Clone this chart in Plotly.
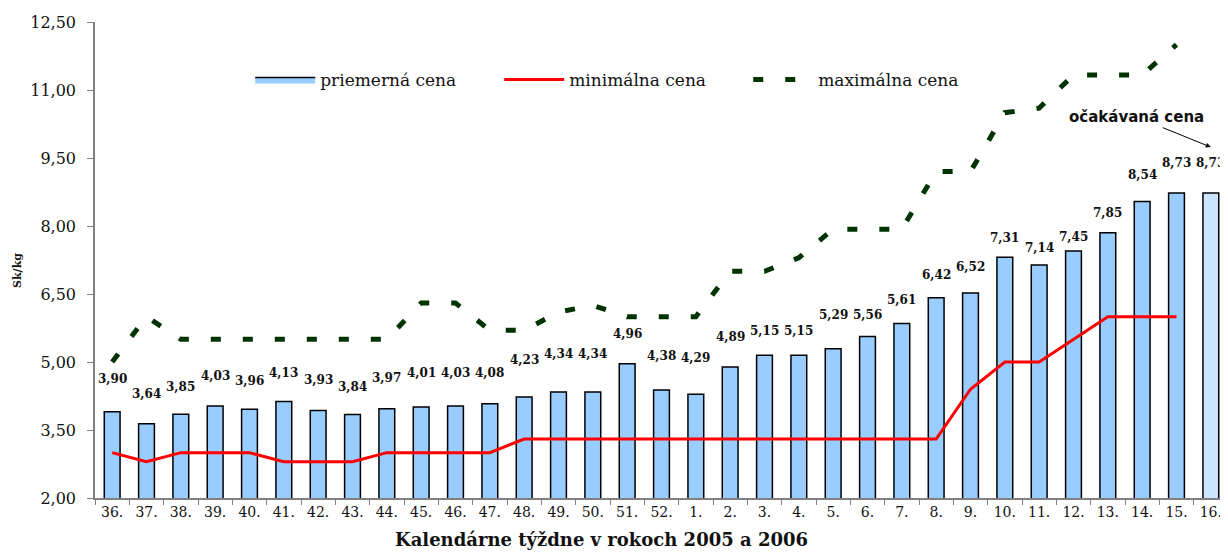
import plotly.graph_objects as go

weeks = ["36.", "37.", "38.", "39.", "40.", "41.", "42.", "43.", "44.", "45.", "46.",
         "47.", "48.", "49.", "50.", "51.", "52.", "1.", "2.", "3.", "4.", "5.", "6.",
         "7.", "8.", "9.", "10.", "11.", "12.", "13.", "14.", "15.", "16."]

# average price (bar heights as drawn)
avg_price = [3.90, 3.64, 3.85, 4.03, 3.96, 4.13, 3.93, 3.84, 3.97, 4.01, 4.03,
             4.08, 4.23, 4.34, 4.34, 4.96, 4.38, 4.29, 4.89, 5.15, 5.15, 5.29, 5.56,
             5.85, 6.42, 6.52, 7.31, 7.14, 7.45, 7.85, 8.54, 8.73, 8.73]

# value labels printed above the bars
avg_labels = ["3,90", "3,64", "3,85", "4,03", "3,96", "4,13", "3,93", "3,84", "3,97",
              "4,01", "4,03", "4,08", "4,23", "4,34", "4,34", "4,96", "4,38", "4,29",
              "4,89", "5,15", "5,15", "5,29", "5,56", "5,61", "6,42", "6,52", "7,31",
              "7,14", "7,45", "7,85", "8,54", "8,73", "8,73"]

min_price = [3.0, 2.8, 3.0, 3.0, 3.0, 2.8, 2.8, 2.8, 3.0, 3.0, 3.0,
             3.0, 3.3, 3.3, 3.3, 3.3, 3.3, 3.3, 3.3, 3.3, 3.3, 3.3, 3.3,
             3.3, 3.3, 4.4, 5.0, 5.0, 5.5, 6.0, 6.0, 6.0, None]

max_price = [5.0, 6.0, 5.5, 5.5, 5.5, 5.5, 5.5, 5.5, 5.5, 6.3, 6.3,
             5.7, 5.7, 6.1, 6.25, 6.0, 6.0, 6.0, 7.0, 7.0, 7.3, 7.93, 7.93,
             7.93, 9.2, 9.2, 10.5, 10.6, 11.33, 11.33, 11.33, 12.0, None]

# label offsets above bar tops (px), as placed in the original
label_shift = [33, 30, 27, 30, 28, 28, 31, 28, 31, 34, 33, 31, 37, 38, 38, 30, 34, 36,
               30, 24, 24, 34, 22, 23, 23, 26, 19, 17, 14, 20, 27, 30, 30]

expected_label = "očakávaná cena"
expected_value = 9.74  # where the arrow points (just above the last bar label)

BAR_FILL = "#99CCFF"
bar_colors = [BAR_FILL] * 32 + ["#CCE5FF"]

SERIF = "DejaVu Serif, Liberation Serif, serif"
SANS = "DejaVu Sans, Liberation Sans, sans-serif"
TXT = "#111111"

fig = go.Figure()
fig.add_trace(go.Bar(
    x=weeks, y=avg_price, name="priemerná cena", showlegend=False,
    marker=dict(color=bar_colors, line=dict(color="black", width=1.5)),
    width=0.46,
))
# legend entry for the bars (wide filled box like the original legend key)
fig.add_trace(go.Scatter(
    x=[None], y=[None], name="priemerná cena", mode="lines", fill="toself",
    fillcolor=BAR_FILL, line=dict(color="black", width=1.5),
))
fig.add_trace(go.Scatter(
    x=weeks, y=min_price, name="minimálna cena", mode="lines",
    line=dict(color="#FF0000", width=3),
))
fig.add_trace(go.Scatter(
    x=weeks, y=max_price, name="maximálna cena", mode="lines",
    line=dict(color="#003300", width=5, dash="10px,22px"),
))

for i, (v, t, s) in enumerate(zip(avg_price, avg_labels, label_shift)):
    fig.add_annotation(x=i, y=v, text="<b>" + t + "</b>", showarrow=False, yshift=s,
                       font=dict(family=SERIF, size=12, color=TXT),
                       xanchor="center", yanchor="middle")

fig.add_annotation(x=len(weeks) - 1, y=expected_value, text="<b>" + expected_label + "</b>",
                   showarrow=True, ax=-74, ay=-30, arrowhead=2, arrowsize=1,
                   arrowwidth=1, arrowcolor="black",
                   font=dict(family=SANS, size=15, color=TXT))

fig.add_annotation(xref="paper", yref="paper", x=0.447, y=-0.088,
                   text="<b>Kalendárne týždne v rokoch 2005 a 2006</b>", showarrow=False,
                   font=dict(family=SERIF, size=18, color=TXT),
                   xanchor="center", yanchor="middle")
fig.add_annotation(xref="paper", yref="paper", x=-0.068, y=0.479,
                   text="<b>Sk/kg</b>", showarrow=False, textangle=-90,
                   font=dict(family=SERIF, size=11, color=TXT),
                   xanchor="center", yanchor="middle")

fig.update_layout(
    width=1220, height=546,
    margin=dict(l=87, r=0, t=14, b=56),
    paper_bgcolor="white", plot_bgcolor="white",
    separators=", ",
    showlegend=True,
    legend=dict(orientation="h", x=0.137, y=0.878, xanchor="left", yanchor="middle",
                font=dict(family=SERIF, size=17, color=TXT),
                entrywidth=174, itemwidth=60, bgcolor="rgba(0,0,0,0)",
                traceorder="normal"),
)
fig.update_xaxes(type="category", range=[-0.5, len(weeks) - 0.5],
                 showline=True, linecolor="#808080", linewidth=1.5,
                 ticks="outside", tickson="boundaries", ticklen=5, tickcolor="#808080",
                 tickfont=dict(family=SERIF, size=14, color=TXT), tickangle=0,
                 showgrid=False, zeroline=False)
fig.update_yaxes(range=[2, 12.5], dtick=1.5, tick0=2, tickformat=".2f",
                 showline=True, linecolor="#808080", linewidth=1.5,
                 ticks="outside", ticklen=6, tickcolor="#808080",
                 ticklabelstandoff=8,
                 tickfont=dict(family=SERIF, size=16, color=TXT),
                 showgrid=False, zeroline=False)

fig.write_html("out.html")
